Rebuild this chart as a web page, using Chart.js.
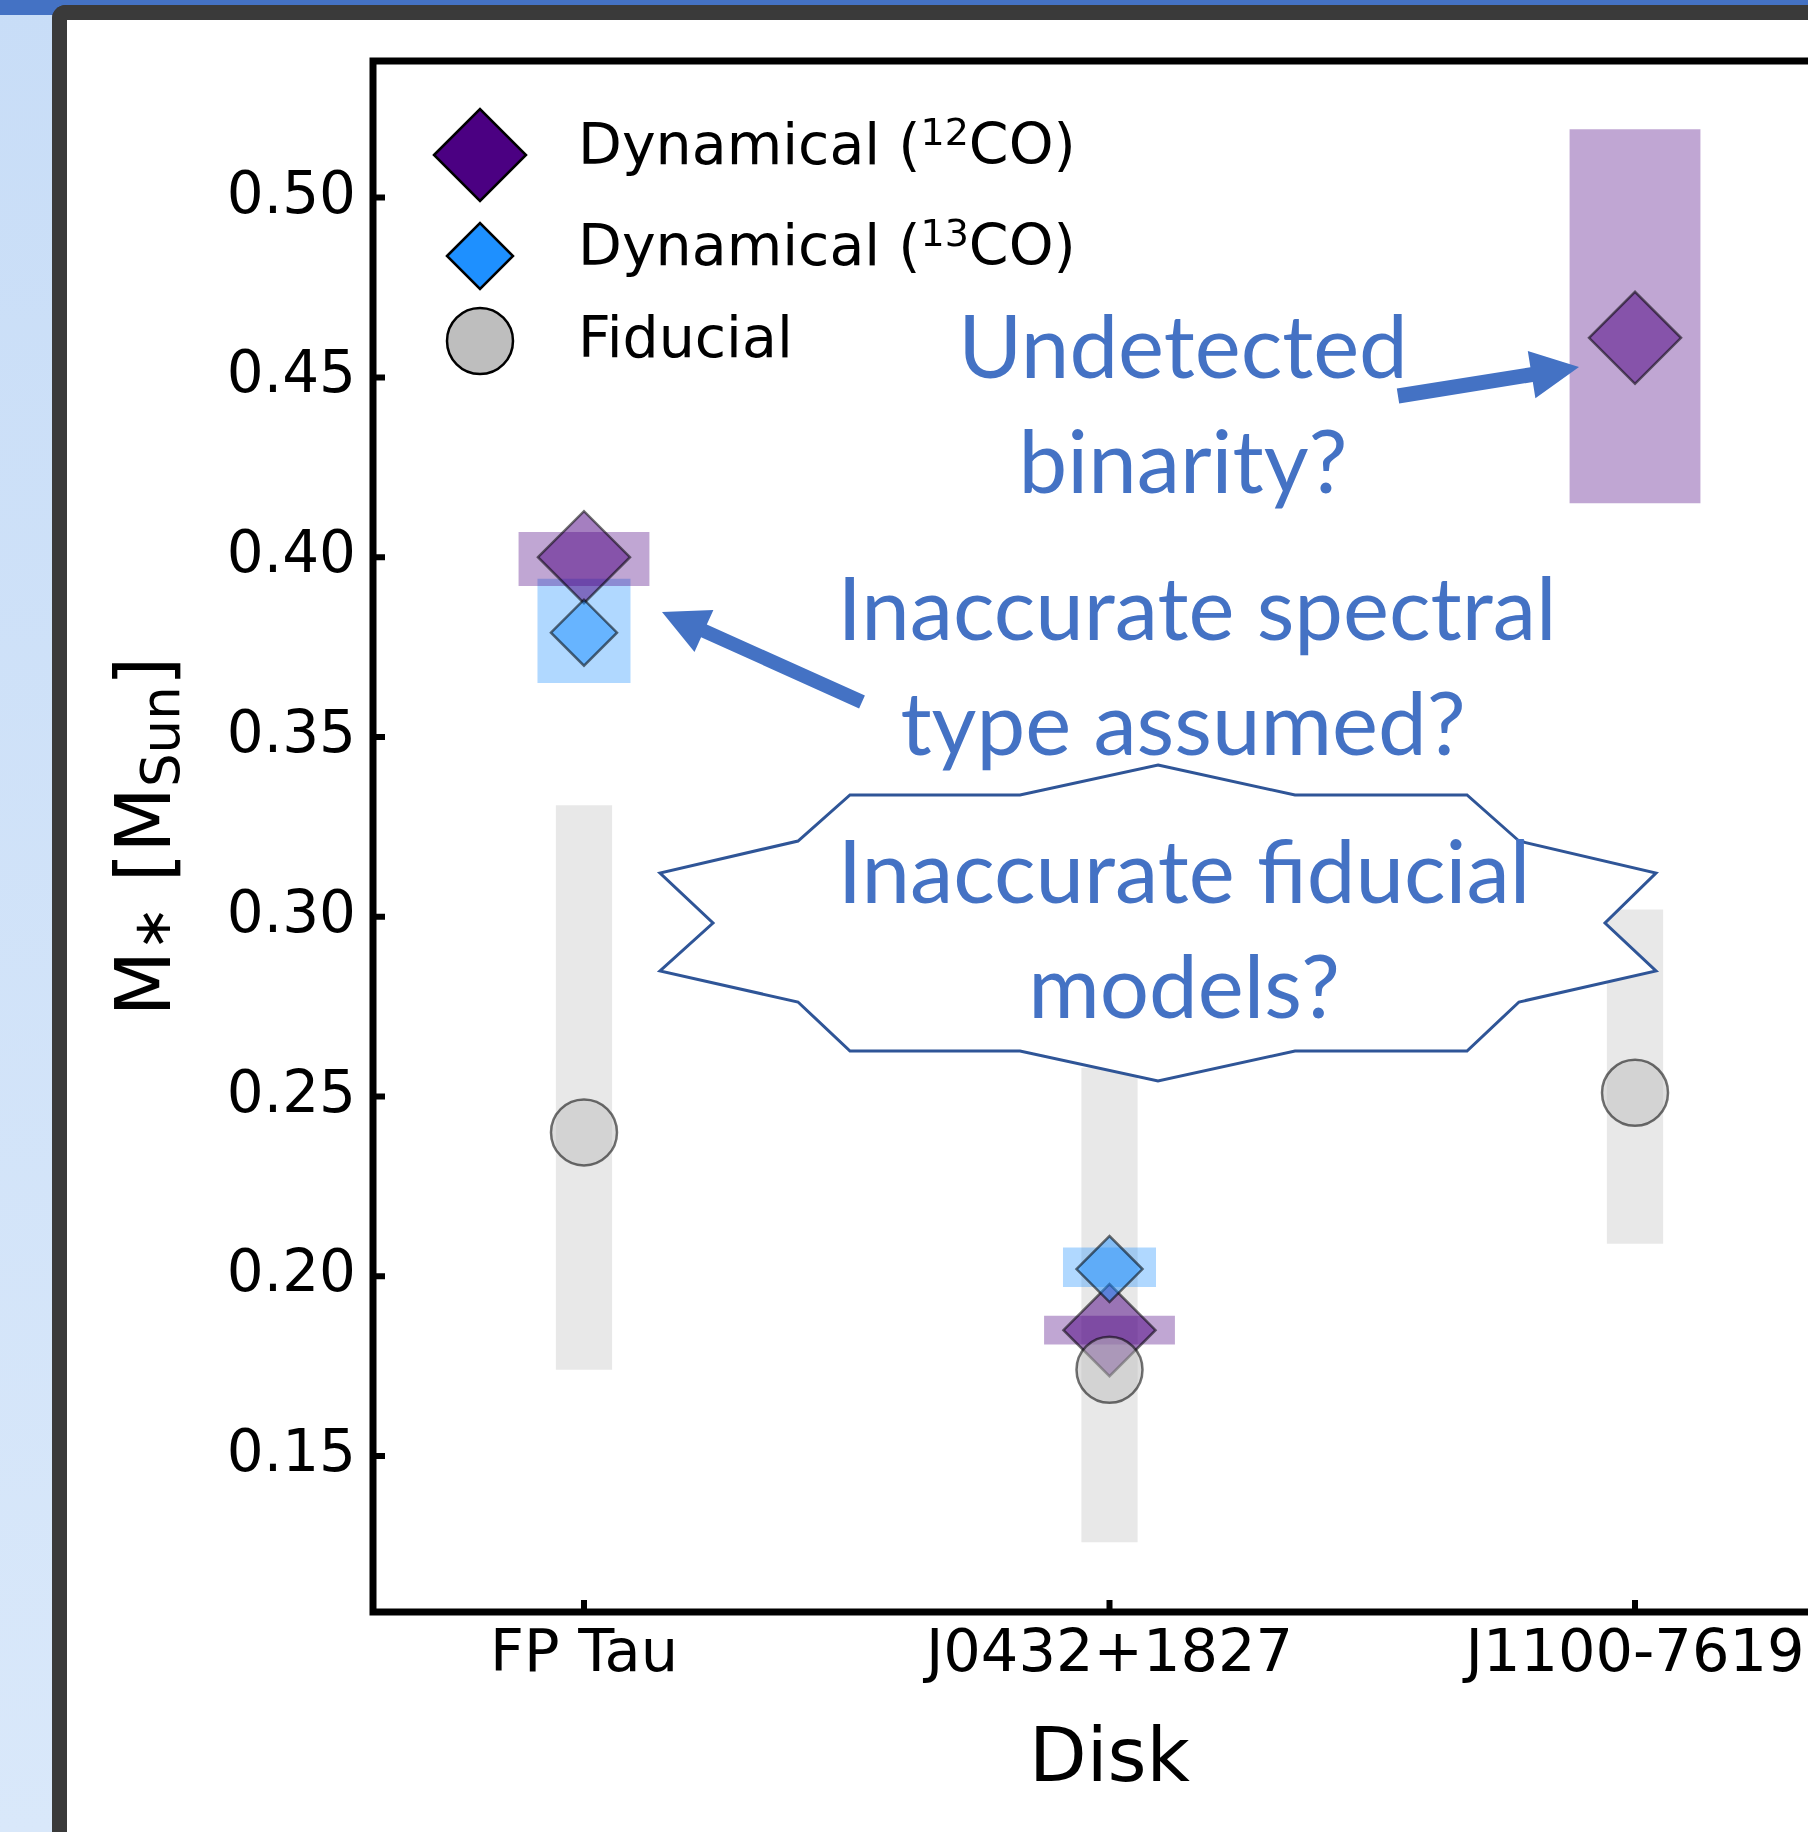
<!DOCTYPE html>
<html>
<head>
<meta charset="utf-8">
<script src="https://cdn.jsdelivr.net/npm/chart.js@4.4.1/dist/chart.umd.min.js"></script>
<style>
  html, body { margin: 0; padding: 0; }
  body {
    width: 1808px; height: 1832px; overflow: hidden; position: relative;
    background: linear-gradient(#c8ddf7, #d9e8fa);
  }
  #topleft { position: absolute; left: 0; top: 0; width: 70px; height: 15px; background: #4472c4; }
  #topbar { position: absolute; left: 0; top: 0; width: 1808px; height: 5px; background: #4472c4; }
  #slide {
    position: absolute; left: 52px; top: 5px; width: 1800px; height: 1900px;
    border-left: 15px solid #3a3a3a; border-top: 15px solid #3a3a3a;
    border-top-left-radius: 14px; background: #fff;
  }
  #chart { position: absolute; left: 0; top: 0; }
  #notes { position: absolute; left: 0; top: 0; }
  #notes text { font-family: Lato, "Open Sans", sans-serif; font-weight: 400; font-size: 87px; fill: #4472c4; }
</style>
</head>
<body>
<div id="topleft"></div>
<div id="topbar"></div>
<div id="slide"></div>
<canvas id="chart" width="1900" height="1832"></canvas>
<svg id="notes" width="1808" height="1832">
  <polygon id="burst" fill="#fff" stroke="#2f5597" stroke-width="3" stroke-linejoin="miter"
    points="1158,765 1295,795 1467,795 1519,841 1656,873 1605,923 1656,971 1519,1002 1467,1051 1295,1051 1158,1081 1020,1051 850,1051 798,1002 660,971 713,923 660,873 798,841 850,795 1020,795"/>
  <text x="1184" y="903" text-anchor="middle">Inaccurate fiducial</text>
  <text x="1184" y="1018" text-anchor="middle">models?</text>
  <text x="1183" y="378" text-anchor="middle">Undetected</text>
  <text x="1183" y="493" text-anchor="middle">binarity?</text>
  <text x="1197" y="640" text-anchor="middle">Inaccurate spectral</text>
  <text x="1183" y="755" text-anchor="middle">type assumed?</text>
  <path id="arrow1" fill="#4472c4"/>
  <path id="arrow2" fill="#4472c4"/>
</svg>
<script>
// disks and stellar masses (M_sun)
const disks = ["FP Tau", "J0432+1827", "J1100-7619"];
const yTicks = [0.15, 0.20, 0.25, 0.30, 0.35, 0.40, 0.45, 0.50];

const co12 = [0.400, 0.185, 0.461];
const co12Low = [0.392, 0.181, 0.415];
const co12High = [0.407, 0.189, 0.519];

const co13 = [0.379, 0.202, null];
const co13Low = [0.365, 0.197, null];
const co13High = [0.394, 0.208, null];

const fiducial = [0.240, 0.174, 0.251];
const fiducialLow = [0.174, 0.126, 0.209];
const fiducialHigh = [0.331, 0.258, 0.302];

const points = (vals) => vals.map((v, i) => ({ x: i, y: v })).filter((p) => p.y !== null);
const bands = (lo, hi) => lo.map((v, i) => ({ x: i, y: [v, hi[i]] })).filter((p) => p.y[0] !== null);

const FONT = "'DejaVu Sans', sans-serif";

// frame + inward ticks like matplotlib
const framePlugin = {
  id: "frame",
  afterDatasetsDraw(chart) {
    const { ctx, chartArea: a, scales } = chart;
    ctx.save();
    ctx.strokeStyle = "#000";
    ctx.lineWidth = 7;
    ctx.strokeRect(a.left, a.top, a.right - a.left, a.bottom - a.top);
    ctx.lineWidth = 6;
    ctx.beginPath();
    scales.y.ticks.forEach((t) => {
      const y = scales.y.getPixelForValue(t.value);
      ctx.moveTo(a.left, y);
      ctx.lineTo(a.left + 12, y);
    });
    scales.x.ticks.forEach((t) => {
      const x = scales.x.getPixelForValue(t.value);
      ctx.moveTo(x, a.bottom);
      ctx.lineTo(x, a.bottom - 12);
    });
    ctx.stroke();
    ctx.restore();
  },
};

// y title: M_* [M_Sun] with subscripts
const yTitlePlugin = {
  id: "ytitle",
  afterDraw(chart) {
    const { ctx, chartArea: a } = chart;
    const big = 76, small = 53;
    const parts = [
      { t: "M", s: big, dy: 0 },
      { t: "\u2217", s: small, dy: 0 },
      { t: " [", s: big, dy: 0 },
      { t: "M", s: big, dy: 0 },
      { t: "Sun", s: small, dy: 9 },
      { t: "]", s: big, dy: 0 },
    ];
    ctx.save();
    let total = 0;
    parts.forEach((p) => {
      ctx.font = p.s + "px " + FONT;
      p.w = ctx.measureText(p.t).width;
      total += p.w;
    });
    ctx.translate(170, (a.top + a.bottom) / 2);
    ctx.rotate(-Math.PI / 2);
    ctx.fillStyle = "#000";
    ctx.textBaseline = "alphabetic";
    let x = -total / 2;
    parts.forEach((p) => {
      ctx.font = p.s + "px " + FONT;
      ctx.fillText(p.t, x, p.dy);
      x += p.w;
    });
    ctx.restore();
  },
};

// legend in the upper-left corner of the axes
const legendPlugin = {
  id: "mylegend",
  afterDraw(chart) {
    const { ctx } = chart;
    const rows = [
      { main: "Dynamical (", sup: "12", rest: "CO)", shape: "diamond", r: 46, fill: "#4b0082", cy: 155, base: 164 },
      { main: "Dynamical (", sup: "13", rest: "CO)", shape: "diamond", r: 33, fill: "#1e90ff", cy: 256, base: 265 },
      { main: "Fiducial", sup: "", rest: "", shape: "circle", r: 33, fill: "#bebebe", cy: 341, base: 357 },
    ];
    const cx = 480, tx = 578, size = 57, supSize = 38;
    ctx.save();
    rows.forEach((row) => {
      ctx.beginPath();
      if (row.shape === "diamond") {
        ctx.moveTo(cx - row.r, row.cy);
        ctx.lineTo(cx, row.cy - row.r);
        ctx.lineTo(cx + row.r, row.cy);
        ctx.lineTo(cx, row.cy + row.r);
        ctx.closePath();
      } else {
        ctx.arc(cx, row.cy, row.r, 0, Math.PI * 2);
      }
      ctx.fillStyle = row.fill;
      ctx.fill();
      ctx.lineWidth = 2.5;
      ctx.strokeStyle = "#000";
      ctx.stroke();

      ctx.fillStyle = "#000";
      ctx.textBaseline = "alphabetic";
      let x = tx;
      ctx.font = size + "px " + FONT;
      ctx.fillText(row.main, x, row.base);
      x += ctx.measureText(row.main).width;
      if (row.sup) {
        ctx.font = supSize + "px " + FONT;
        ctx.fillText(row.sup, x, row.base - 19);
        x += ctx.measureText(row.sup).width;
        ctx.font = size + "px " + FONT;
        ctx.fillText(row.rest, x, row.base);
      }
    });
    ctx.restore();
  },
};

new Chart(document.getElementById("chart"), {
  type: "scatter",
  data: {
    datasets: [
      {
        type: "bar", label: "Fiducial range", data: bands(fiducialLow, fiducialHigh),
        backgroundColor: "rgba(190,190,190,0.35)", grouped: false,
        categoryPercentage: 1, barPercentage: 0.107, order: 10,
      },
      {
        type: "bar", label: "13CO range", data: bands(co13Low, co13High),
        backgroundColor: "rgba(30,144,255,0.35)", grouped: false,
        categoryPercentage: 1, barPercentage: 0.177, order: 9,
      },
      {
        type: "bar", label: "12CO range", data: bands(co12Low, co12High),
        backgroundColor: "rgba(75,0,130,0.35)", grouped: false,
        categoryPercentage: 1, barPercentage: 0.249, order: 8,
      },
      {
        label: "Dynamical (12CO)", data: points(co12), pointStyle: "rectRot", pointRadius: 46,
        backgroundColor: "rgba(75,0,130,0.5)", borderColor: "rgba(0,0,0,0.55)", borderWidth: 2.5, order: 3,
      },
      {
        label: "Dynamical (13CO)", data: points(co13), pointStyle: "rectRot", pointRadius: 33,
        backgroundColor: "rgba(30,144,255,0.5)", borderColor: "rgba(0,0,0,0.55)", borderWidth: 2.5, order: 2,
      },
      {
        label: "Fiducial", data: points(fiducial), pointStyle: "circle", pointRadius: 33,
        backgroundColor: "rgba(190,190,190,0.5)", borderColor: "rgba(0,0,0,0.55)", borderWidth: 2.5, order: 1,
      },
    ],
  },
  options: {
    responsive: false,
    animation: false,
    devicePixelRatio: 1,
    layout: { padding: { top: 61, right: 54, bottom: 0, left: 0 } },
    plugins: { legend: { display: false }, tooltip: { enabled: false } },
    scales: {
      x: {
        type: "linear",
        offset: false,
        min: -0.4015,
        max: 2.4015,
        grid: { display: false, drawTicks: false },
        border: { display: false },
        afterBuildTicks: (s) => { s.ticks = disks.map((d, i) => ({ value: i })); },
        afterFit: (s) => { s.height = 220; },
        ticks: {
          callback: (v) => disks[v],
          font: { family: FONT, size: 59 },
          color: "#000",
          padding: 8,
          maxRotation: 0,
          autoSkip: false,
        },
        title: {
          display: true, text: "Disk", color: "#000",
          font: { family: FONT, size: 75 },
          padding: { top: 0, bottom: 25 },
        },
      },
      y: {
        min: 0.1066,
        max: 0.538,
        grid: { display: false, drawTicks: false },
        border: { display: false },
        afterBuildTicks: (s) => { s.ticks = yTicks.map((v) => ({ value: v })); },
        afterFit: (s) => { s.width = 373; },
        ticks: {
          callback: (v) => v.toFixed(2),
          font: { family: FONT, size: 58 },
          color: "#000",
          padding: 17,
        },
      },
    },
  },
  plugins: [framePlugin, yTitlePlugin, legendPlugin],
});

// annotation arrows
function arrowPath(x1, y1, x2, y2, shaft, headW, headL) {
  const len = Math.hypot(x2 - x1, y2 - y1);
  const ux = (x2 - x1) / len, uy = (y2 - y1) / len, nx = -uy, ny = ux;
  const bx = x2 - ux * headL, by = y2 - uy * headL;
  const p = [
    [x1 + nx * shaft / 2, y1 + ny * shaft / 2],
    [bx + nx * shaft / 2, by + ny * shaft / 2],
    [bx + nx * headW / 2, by + ny * headW / 2],
    [x2, y2],
    [bx - nx * headW / 2, by - ny * headW / 2],
    [bx - nx * shaft / 2, by - ny * shaft / 2],
    [x1 - nx * shaft / 2, y1 - ny * shaft / 2],
  ];
  return "M" + p.map((q) => q[0].toFixed(1) + "," + q[1].toFixed(1)).join("L") + "Z";
}
document.getElementById("arrow1").setAttribute("d", arrowPath(1398, 396, 1579, 367, 15, 48, 48));
document.getElementById("arrow2").setAttribute("d", arrowPath(862, 702, 662, 612, 14, 46, 46));
</script>
</body>
</html>
